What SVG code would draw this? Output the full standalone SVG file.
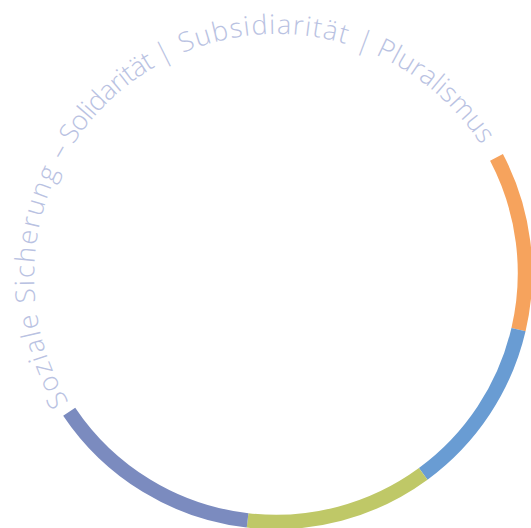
<svg xmlns="http://www.w3.org/2000/svg" width="531" height="528" viewBox="0 0 531 528">
  <style>
    .seg { fill: none; stroke-width: 14.5; stroke-linecap: butt; }
    .label { font-family: "Open Sans", "Liberation Sans", sans-serif; font-weight: 300; font-size: 27px; fill: #B9C2E2; }
  </style>
  <defs>
    <path id="textArc" d="M68.7,402.1 A243,243 0 0 1 189.9,50.1 A243,243 0 0 1 515.5,230.6"/>
  </defs>
  <rect width="531" height="528" fill="#FFFFFF"/>
  <g id="ring">
    <g id="seg-orange"><path class="seg" stroke="#F6A35D" d="M496.5,157.3 A249,249 0 0 1 518.5,329.6"/></g>
    <g id="seg-blue"><path class="seg" stroke="#699CD3" d="M518.5,329.6 A249,249 0 0 1 423.2,473.9"/></g>
    <g id="seg-green"><path class="seg" stroke="#BFC867" d="M423.2,473.9 A249,249 0 0 1 247.6,520.4"/></g>
    <g id="seg-purple"><path class="seg" stroke="#7B8BBF" d="M247.6,520.4 A249,249 0 0 1 69.2,411.7"/></g>
  </g>
  <g id="circle-label">
    <text class="label"><textPath href="#textArc"><tspan style="letter-spacing:1.8px">Soziale Sicherung </tspan><tspan style="letter-spacing:-0.7px">– Solidarität </tspan><tspan style="letter-spacing:1.3px">| Subsidiarität </tspan><tspan style="letter-spacing:0.1px">| Pluralismus</tspan></textPath></text>
  </g>
</svg>
